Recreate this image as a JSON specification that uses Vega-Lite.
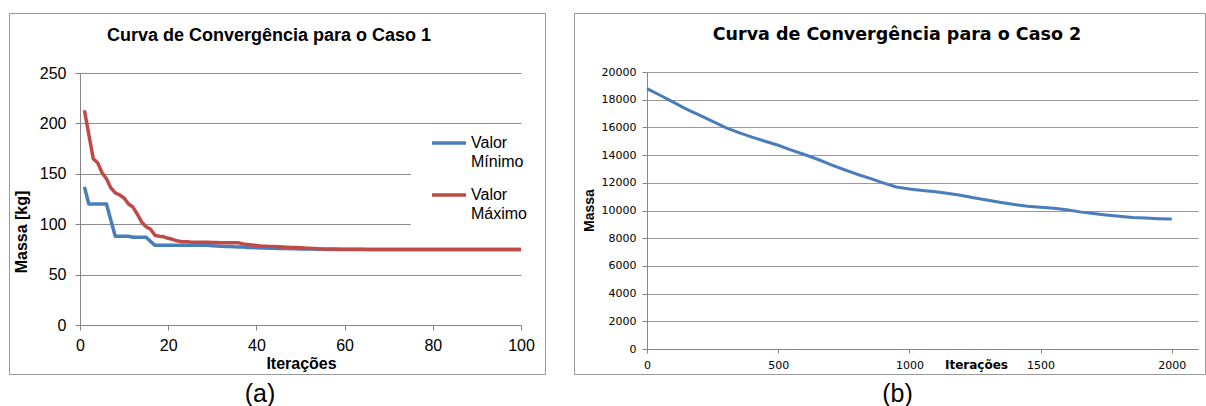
{
  "$schema": "https://vega.github.io/schema/vega-lite/v6.json",
  "background": "white",
  "padding": {"left": 8, "top": 12, "right": 0, "bottom": 0},
  "spacing": 27,
  "config": {
    "font": "Liberation Sans",
    "axis": {
      "domainColor": "#868686",
      "tickColor": "#868686",
      "gridColor": "#8c8c8c",
      "labelColor": "#000000",
      "titleColor": "#000000",
      "titleFontWeight": "bold",
      "labelFlush": false,
      "labelOverlap": false
    },
    "title": {"color": "#000000"},
    "concat": {"spacing": 27}
  },
  "datasets": {
    "caso1": [
      {"it": 1, "minimo": 137, "maximo": 213},
      {"it": 2, "minimo": 120, "maximo": 189},
      {"it": 3, "minimo": 120, "maximo": 165},
      {"it": 4, "minimo": 120, "maximo": 161},
      {"it": 5, "minimo": 120, "maximo": 151},
      {"it": 6, "minimo": 120, "maximo": 145},
      {"it": 7, "minimo": 104, "maximo": 136},
      {"it": 8, "minimo": 88, "maximo": 131},
      {"it": 9, "minimo": 88, "maximo": 129},
      {"it": 10, "minimo": 88, "maximo": 126},
      {"it": 11, "minimo": 88, "maximo": 120},
      {"it": 12, "minimo": 87, "maximo": 117},
      {"it": 13, "minimo": 87, "maximo": 110},
      {"it": 14, "minimo": 87, "maximo": 102},
      {"it": 15, "minimo": 87, "maximo": 97.5},
      {"it": 16, "minimo": 83, "maximo": 95},
      {"it": 17, "minimo": 79, "maximo": 89},
      {"it": 18, "minimo": 79, "maximo": 88},
      {"it": 19, "minimo": 79, "maximo": 87.5},
      {"it": 20, "minimo": 79, "maximo": 86},
      {"it": 21, "minimo": 79, "maximo": 85},
      {"it": 22, "minimo": 79, "maximo": 83.5},
      {"it": 23, "minimo": 79, "maximo": 82.7},
      {"it": 24, "minimo": 79, "maximo": 82.5},
      {"it": 25, "minimo": 79, "maximo": 82.3},
      {"it": 26, "minimo": 79, "maximo": 82.2},
      {"it": 27, "minimo": 79, "maximo": 82.1},
      {"it": 28, "minimo": 79, "maximo": 82},
      {"it": 29, "minimo": 79, "maximo": 82},
      {"it": 30, "minimo": 78.5, "maximo": 81.9},
      {"it": 31, "minimo": 78.3, "maximo": 81.8},
      {"it": 32, "minimo": 78.1, "maximo": 81.7},
      {"it": 33, "minimo": 78, "maximo": 81.7},
      {"it": 34, "minimo": 77.8, "maximo": 81.6},
      {"it": 35, "minimo": 77.6, "maximo": 81.6},
      {"it": 36, "minimo": 77.5, "maximo": 81.5},
      {"it": 37, "minimo": 77.3, "maximo": 80.3},
      {"it": 38, "minimo": 77, "maximo": 79.8},
      {"it": 39, "minimo": 76.8, "maximo": 79.3},
      {"it": 40, "minimo": 76.6, "maximo": 78.8},
      {"it": 41, "minimo": 76.4, "maximo": 78.4},
      {"it": 42, "minimo": 76.3, "maximo": 78.2},
      {"it": 43, "minimo": 76.2, "maximo": 78},
      {"it": 44, "minimo": 76.1, "maximo": 77.8},
      {"it": 45, "minimo": 76, "maximo": 77.6},
      {"it": 46, "minimo": 75.9, "maximo": 77.4},
      {"it": 47, "minimo": 75.8, "maximo": 77.2},
      {"it": 48, "minimo": 75.7, "maximo": 77},
      {"it": 49, "minimo": 75.6, "maximo": 76.9},
      {"it": 50, "minimo": 75.5, "maximo": 76.7},
      {"it": 51, "minimo": 75.5, "maximo": 76.4},
      {"it": 52, "minimo": 75.4, "maximo": 76.2},
      {"it": 53, "minimo": 75.3, "maximo": 76},
      {"it": 54, "minimo": 75.2, "maximo": 75.7},
      {"it": 55, "minimo": 75.1, "maximo": 75.5},
      {"it": 56, "minimo": 75, "maximo": 75.4},
      {"it": 57, "minimo": 75, "maximo": 75.3},
      {"it": 58, "minimo": 75, "maximo": 75.3},
      {"it": 59, "minimo": 75, "maximo": 75.2},
      {"it": 60, "minimo": 75, "maximo": 75.2},
      {"it": 61, "minimo": 75, "maximo": 75.2},
      {"it": 62, "minimo": 75, "maximo": 75.1},
      {"it": 63, "minimo": 75, "maximo": 75.1},
      {"it": 64, "minimo": 75, "maximo": 75.1},
      {"it": 65, "minimo": 75, "maximo": 75},
      {"it": 66, "minimo": 75, "maximo": 75},
      {"it": 67, "minimo": 75, "maximo": 75},
      {"it": 68, "minimo": 75, "maximo": 75},
      {"it": 69, "minimo": 75, "maximo": 75},
      {"it": 70, "minimo": 75, "maximo": 75},
      {"it": 71, "minimo": 75, "maximo": 75},
      {"it": 72, "minimo": 75, "maximo": 75},
      {"it": 73, "minimo": 75, "maximo": 75},
      {"it": 74, "minimo": 75, "maximo": 75},
      {"it": 75, "minimo": 75, "maximo": 75},
      {"it": 76, "minimo": 75, "maximo": 75},
      {"it": 77, "minimo": 75, "maximo": 75},
      {"it": 78, "minimo": 75, "maximo": 75},
      {"it": 79, "minimo": 75, "maximo": 75},
      {"it": 80, "minimo": 75, "maximo": 75},
      {"it": 81, "minimo": 75, "maximo": 75},
      {"it": 82, "minimo": 75, "maximo": 75},
      {"it": 83, "minimo": 75, "maximo": 75},
      {"it": 84, "minimo": 75, "maximo": 75},
      {"it": 85, "minimo": 75, "maximo": 75},
      {"it": 86, "minimo": 75, "maximo": 75},
      {"it": 87, "minimo": 75, "maximo": 75},
      {"it": 88, "minimo": 75, "maximo": 75},
      {"it": 89, "minimo": 75, "maximo": 75},
      {"it": 90, "minimo": 75, "maximo": 75},
      {"it": 91, "minimo": 75, "maximo": 75},
      {"it": 92, "minimo": 75, "maximo": 75},
      {"it": 93, "minimo": 75, "maximo": 75},
      {"it": 94, "minimo": 75, "maximo": 75},
      {"it": 95, "minimo": 75, "maximo": 75},
      {"it": 96, "minimo": 75, "maximo": 75},
      {"it": 97, "minimo": 75, "maximo": 75},
      {"it": 98, "minimo": 75, "maximo": 75},
      {"it": 99, "minimo": 75, "maximo": 75},
      {"it": 100, "minimo": 75, "maximo": 75}
    ],
    "caso2": [
      {"it": 0, "massa": 18800},
      {"it": 50, "massa": 18320},
      {"it": 100, "massa": 17830},
      {"it": 150, "massa": 17320},
      {"it": 200, "massa": 16880},
      {"it": 250, "massa": 16430},
      {"it": 300, "massa": 15990},
      {"it": 350, "massa": 15620},
      {"it": 400, "massa": 15300},
      {"it": 450, "massa": 15000},
      {"it": 500, "massa": 14710},
      {"it": 550, "massa": 14360},
      {"it": 600, "massa": 14040},
      {"it": 650, "massa": 13700},
      {"it": 700, "massa": 13320},
      {"it": 750, "massa": 12960},
      {"it": 800, "massa": 12620},
      {"it": 850, "massa": 12320},
      {"it": 900, "massa": 11990},
      {"it": 950, "massa": 11700},
      {"it": 1000, "massa": 11550},
      {"it": 1050, "massa": 11440},
      {"it": 1100, "massa": 11350},
      {"it": 1150, "massa": 11230},
      {"it": 1200, "massa": 11080},
      {"it": 1250, "massa": 10900},
      {"it": 1300, "massa": 10740},
      {"it": 1350, "massa": 10580},
      {"it": 1400, "massa": 10430},
      {"it": 1450, "massa": 10300},
      {"it": 1500, "massa": 10230},
      {"it": 1550, "massa": 10170},
      {"it": 1600, "massa": 10060},
      {"it": 1650, "massa": 9900},
      {"it": 1700, "massa": 9780},
      {"it": 1750, "massa": 9670},
      {"it": 1800, "massa": 9580},
      {"it": 1850, "massa": 9500},
      {"it": 1900, "massa": 9450},
      {"it": 1950, "massa": 9410},
      {"it": 2000, "massa": 9390}
    ]
  },
  "hconcat": [
    {
      "title": {
        "text": "(a)", "orient": "bottom", "anchor": "middle", "frame": "bounds",
        "baseline": "middle", "offset": 19, "dx": -17,
        "font": "Liberation Sans", "fontSize": 25, "fontWeight": "normal"
      },
      "vconcat": [
        {
          "width": 536,
          "height": 361,
          "view": {"stroke": "#9a9a9a", "strokeWidth": 1},
          "title": {
            "text": "Curva de Convergência para o Caso 1", "anchor": "middle", "frame": "group",
            "baseline": "middle", "offset": -40.5, "dx": -8,
            "font": "Liberation Sans", "fontSize": 18, "fontWeight": "bold"
          },
          "data": {"name": "caso1"},
          "transform": [{"fold": ["minimo", "maximo"], "as": ["serie", "massa"]}],
          "mark": {"type": "line", "strokeWidth": 3.5, "strokeJoin": "round"},
          "encoding": {
            "x": {
              "field": "it", "type": "quantitative",
              "scale": {"domain": [0, 100], "range": [71, 512], "nice": false, "zero": false},
              "axis": {
                "values": [0, 20, 40, 60, 80, 100], "offset": -49, "grid": false,
                "title": "Iterações", "titleX": 292, "titleY": 38, "titleAlign": "center", "titleBaseline": "middle",
                "titleFont": "Liberation Sans", "titleFontSize": 16,
                "labelFont": "Liberation Sans", "labelFontSize": 16, "tickSize": 5, "labelPadding": 7
              }
            },
            "y": {
              "field": "massa", "type": "quantitative",
              "scale": {"domain": [0, 250], "range": [312, 60], "nice": false},
              "axis": {
                "values": [0, 50, 100, 150, 200, 250], "offset": -71, "grid": true, "gridColor": "#8c8c8c",
                "title": "Massa [kg]", "titleX": -58.5, "titleY": 218.5, "titleAngle": -90,
                "titleAlign": "center", "titleBaseline": "middle",
                "titleFont": "Liberation Sans", "titleFontSize": 16,
                "labelFont": "Liberation Sans", "labelFontSize": 16, "tickSize": 5, "labelPadding": 9
              }
            },
            "color": {
              "field": "serie", "type": "nominal",
              "scale": {"domain": ["minimo", "maximo"], "range": ["#4A7EBB", "#BE4B48"]},
              "legend": {
                "orient": "none", "legendX": 402, "legendY": 117, "title": null,
                "fillColor": "white", "padding": 5,
                "symbolType": "stroke", "symbolSize": 1156, "symbolStrokeWidth": 3.5, "symbolOffset": 14,
                "labelFont": "Liberation Sans", "labelFontSize": 16, "labelColor": "#000000",
                "labelOffset": 3, "labelLimit": 0, "rowPadding": 17,
                "labelExpr": "datum.label == 'minimo' ? ['Valor', 'Mínimo'] : ['Valor', 'Máximo']",
                "encode": {
                  "symbols": {"update": {"y": {"value": 8}}},
                  "labels": {"update": {"y": {"value": 8}, "lineHeight": {"value": 19}}}
                }
              }
            }
          }
        }
      ]
    },
    {
      "title": {
        "text": "(b)", "orient": "bottom", "anchor": "middle", "frame": "bounds",
        "baseline": "middle", "offset": 19, "dx": 8,
        "font": "Liberation Sans", "fontSize": 25, "fontWeight": "normal"
      },
      "vconcat": [
        {
          "width": 631,
          "height": 361,
          "view": {"stroke": "#9a9a9a", "strokeWidth": 1},
          "title": {
            "text": "Curva de Convergência para o Caso 2", "anchor": "middle", "frame": "group",
            "baseline": "middle", "offset": -39, "dx": 7.5,
            "font": "DejaVu Sans", "fontSize": 17.5, "fontWeight": "bold"
          },
          "data": {"name": "caso2"},
          "mark": {"type": "line", "strokeWidth": 3, "color": "#4A7EBB", "strokeJoin": "round"},
          "encoding": {
            "x": {
              "field": "it", "type": "quantitative",
              "scale": {"domain": [0, 2100], "range": [73, 624], "nice": false, "zero": false},
              "axis": {
                "values": [0, 500, 1000, 1500, 2000], "offset": -25, "grid": false, "format": "d",
                "title": "Iterações", "titleX": 402, "titleY": 15, "titleAlign": "center", "titleBaseline": "middle",
                "titleFont": "DejaVu Sans", "titleFontSize": 12,
                "labelFont": "DejaVu Sans", "labelFontSize": 11, "tickSize": 4, "labelPadding": 6
              }
            },
            "y": {
              "field": "massa", "type": "quantitative",
              "scale": {"domain": [0, 20000], "range": [336, 59], "nice": false},
              "axis": {
                "values": [0, 2000, 4000, 6000, 8000, 10000, 12000, 14000, 16000, 18000, 20000],
                "offset": -73, "grid": true, "gridColor": "#999999", "format": "d",
                "title": "Massa", "titleX": -58, "titleY": 197, "titleAngle": -90,
                "titleAlign": "center", "titleBaseline": "middle",
                "titleFont": "Liberation Sans", "titleFontSize": 14,
                "labelFont": "DejaVu Sans", "labelFontSize": 11, "tickSize": 5, "labelPadding": 6
              }
            }
          }
        }
      ]
    }
  ]
}
